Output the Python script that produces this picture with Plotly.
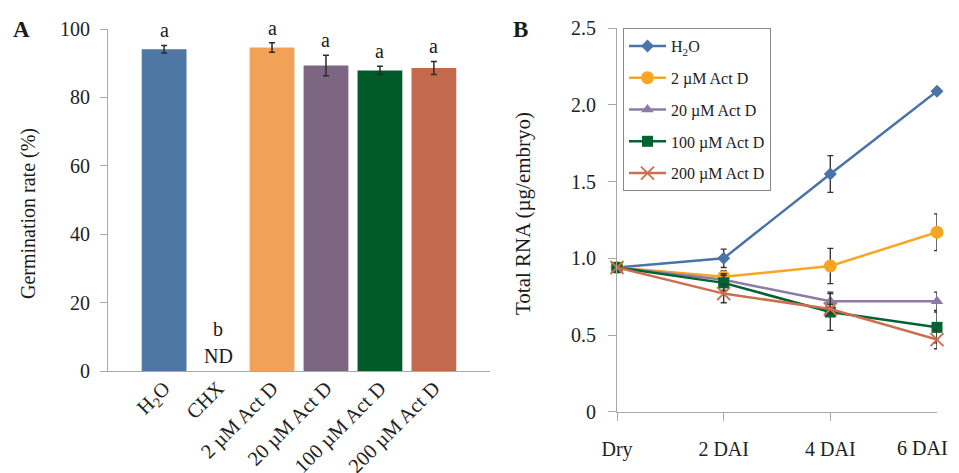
import plotly.graph_objects as go

# The page body has an 8px margin, so layout positions are given in reference pixels minus 8.
OFF = 8
W, H = 959 - OFF, 473 - OFF
FONT = "Liberation Serif"

# ---- Panel A data ----
bar_labels = ["H<sub>2</sub>O", "CHX", "2 µM Act D", "20 µM Act D", "100 µM Act D", "200 µM Act D"]
bar_values = [94.1, None, 94.6, 89.3, 87.9, 88.6]
bar_errors = [1.1, None, 1.4, 3.0, 1.2, 1.9]
bar_letters = ["a", "", "a", "a", "a", "a"]
bar_colors = ["#4f77a6", "#ffffff", "#f1a256", "#7c6681", "#005a2a", "#c36a4d"]

# ---- Panel B data ----
time_labels = ["Dry", "2 DAI", "4 DAI", "6 DAI"]
series_names = ["H<sub>2</sub>O", "2 µM Act D", "20 µM Act D", "100 µM Act D", "200 µM Act D"]
rna_h2o = [0.94, 1.00, 1.55, 2.09]
rna_2 = [0.94, 0.88, 0.95, 1.17]
rna_20 = [0.94, 0.86, 0.72, 0.72]
rna_100 = [0.94, 0.84, 0.65, 0.55]
rna_200 = [0.94, 0.77, 0.67, 0.47]
err_h2o = [0.01, 0.06, 0.12, 0.0]
err_2 = [0.01, 0.04, 0.115, 0.12]
err_20 = [0.01, 0.04, 0.06, 0.06]
err_100 = [0.01, 0.05, 0.12, 0.10]
err_200 = [0.01, 0.06, 0.03, 0.06]
series_values = [rna_h2o, rna_2, rna_20, rna_100, rna_200]
series_errors = [err_h2o, err_2, err_20, err_100, err_200]
series_colors = ["#4a73a8", "#f6a623", "#8e7ba3", "#006331", "#cd6e4f"]
series_symbols = ["diamond", "circle", "triangle-up", "square", "x-thin"]
series_sizes = [10, 13, 11, 11, 13]


def px(x):
    return (x - OFF) / W


def py(y):
    return 1 - (y - OFF) / H


fig = go.Figure()

xs = list(range(len(bar_labels)))
fig.add_trace(go.Bar(
    x=xs, y=bar_values, width=0.83,
    marker=dict(color=bar_colors, line=dict(width=0)),
    error_y=dict(type="data", array=bar_errors, color="#2a2a2a", thickness=1.5, width=3),
    xaxis="x", yaxis="y", showlegend=False,
))

for i, (nm, vals, errs, col, sym, sz) in enumerate(zip(series_names, series_values, series_errors,
                                                       series_colors, series_symbols, series_sizes)):
    mk = dict(symbol=sym, size=sz, color=col)
    if sym == "x-thin":
        mk["line"] = dict(color=col, width=2)
    fig.add_trace(go.Scatter(
        x=list(range(len(time_labels))), y=vals, name=nm, mode="lines+markers",
        line=dict(color=col, width=2.5), marker=mk,
        error_y=dict(type="data", array=errs, color="#333333", thickness=1.4, width=3),
        xaxis="x2", yaxis="y2", legendgroup=f"g{i}", cliponaxis=False,
    ))

TXT = dict(size=20, family=FONT, color="#1a1a1a")
ann = []
for x, v, e, t in zip(xs, bar_values, bar_errors, bar_letters):
    if t:
        ann.append(dict(x=x, y=v + e + 0.6, text=t, showarrow=False, xref="x", yref="y",
                        yanchor="bottom", font=TXT))
ann.append(dict(x=1, y=12.3, text="b", showarrow=False, xref="x", yref="y", font=TXT))
ann.append(dict(x=1, y=4.4, text="ND", showarrow=False, xref="x", yref="y", font=TXT))


def paper_text(x, y, text, size, angle=0):
    return dict(x=px(x), y=py(y), xref="paper", yref="paper", text=text, showarrow=False,
                xanchor="center", yanchor="middle", textangle=angle,
                font=dict(size=size, family=FONT, color="#1a1a1a"))


ann.append(paper_text(21, 29, "<b>A</b>", 23))
ann.append(paper_text(520, 29, "<b>B</b>", 23))
ann.append(paper_text(28, 214, "Germination rate (%)", 20, -90))
ann.append(paper_text(523, 214, "Total RNA (µg/embryo)", 21, -90))
# last category label sits slightly left of its tick (kept inside the image edge)
ann.append(paper_text(922, 448, time_labels[3], 20))

axis_common = dict(showline=True, linecolor="#a8a8a8", linewidth=1.2, ticks="outside",
                   tickcolor="#a8a8a8", ticklen=7, showgrid=False, zeroline=False, automargin=False,
                   ticklabeloverflow="allow",
                   tickfont=dict(size=20, family=FONT, color="#222"))

fig.update_layout(
    width=W, height=H, margin=dict(l=0, r=0, t=0, b=0),
    paper_bgcolor="white", plot_bgcolor="white",
    font=dict(family=FONT, color="#222"),
    annotations=ann,
    xaxis=dict(domain=[px(108), px(490)], range=[-1.04, 6.04], tickvals=xs, ticktext=bar_labels,
               tickangle=-45, anchor="y",
               **{**axis_common, "tickfont": dict(size=20.5, family=FONT, color="#222"),
                  "ticks": "", "ticklabelstandoff": -4}),
    yaxis=dict(domain=[py(371), py(29)], range=[0, 100], tickvals=[0, 20, 40, 60, 80, 100],
               anchor="x", ticklabelstandoff=6, **axis_common),
    xaxis2=dict(domain=[px(617), px(937)], range=[0, 3], tickvals=[0, 1, 2], ticktext=time_labels[:3],
                anchor="y2", ticklabelstandoff=11, **{**axis_common, "ticklen": 8}),
    yaxis2=dict(domain=[py(411.7), py(28.3)], range=[0, 2.5], tickvals=[0, 0.5, 1.0, 1.5, 2.0, 2.5],
                ticktext=["0", "0.5", "1.0", "1.5", "2.0", "2.5"], anchor="x2", ticklabelstandoff=8,
                **{**axis_common, "ticklen": 8}),
    shapes=[dict(type="line", xref="x2", yref="y2", x0=3, x1=3, y0=0, y1=-0.052,
                 line=dict(color="#a8a8a8", width=1.2))],
    showlegend=True,
    legend=dict(x=px(623), y=py(28), xanchor="left", yanchor="top", bgcolor="white",
                bordercolor="#888", borderwidth=1, tracegroupgap=8, itemwidth=37,
                font=dict(size=16, family=FONT, color="#222")),
    bargap=0.17,
)

fig.write_html("out.html")
